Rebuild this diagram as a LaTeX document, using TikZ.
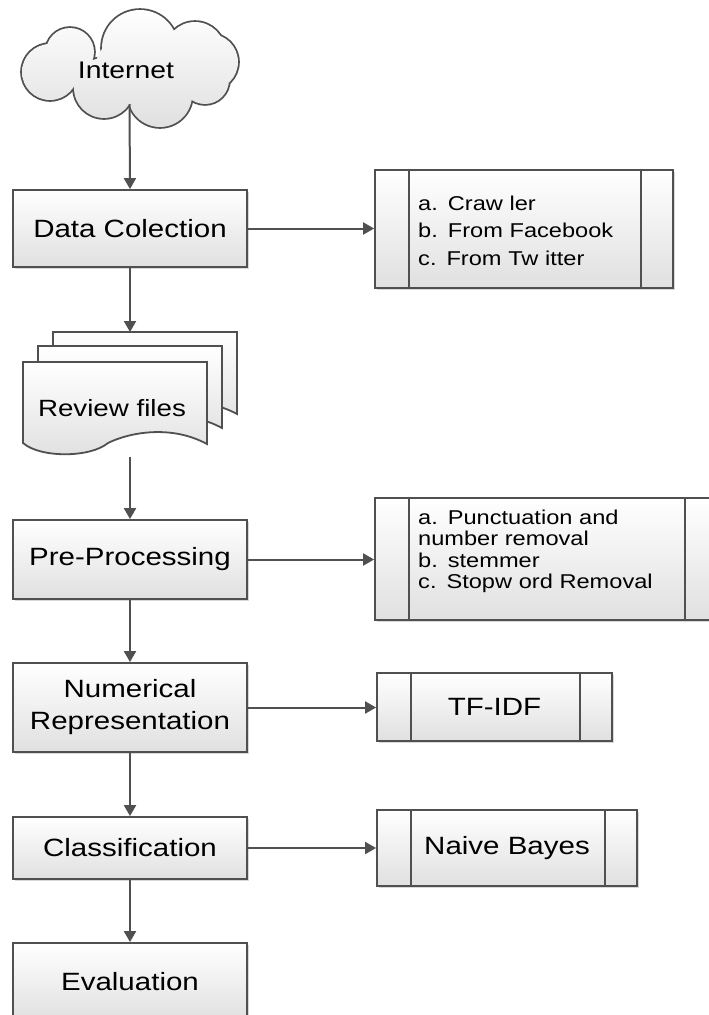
\documentclass[tikz,border=0pt]{standalone}
\usepackage{fontspec}
\setmainfont{Liberation Sans}[FakeStretch=1.18]
\usetikzlibrary{arrows.meta,shadows}
\definecolor{edge}{RGB}{80,80,80}
\definecolor{fillbot}{RGB}{224,224,224}
\begin{document}
\begin{tikzpicture}[x=1pt,y=-1pt,
  proc/.style={draw=edge, line width=1.8pt, top color=white, bottom color=fillbot,
    minimum width=234pt, align=center, inner sep=0pt,
    font=\fontsize{25}{32}\selectfont,
    drop shadow={shadow xshift=1.5pt,shadow yshift=-1.5pt,opacity=0.3}},
  predef/.style={proc, path picture={
    \draw[edge,line width=1.8pt] ([xshift=34pt]path picture bounding box.north west) -- ([xshift=34pt]path picture bounding box.south west);
    \draw[edge,line width=1.8pt] ([xshift=-32pt]path picture bounding box.north east) -- ([xshift=-32pt]path picture bounding box.south east);}},
  flow/.style={-{Triangle[length=11pt,width=12pt]}, draw=edge, line width=2pt},
  listtext/.style={align=left, inner sep=0pt, anchor=west, font=\fontsize{20}{27.5}\selectfont},
  docshape/.style={draw=edge, line width=1.8pt, top color=white, bottom color=fillbot}
]
\fill[white] (0,0) rectangle (709,1015);
\useasboundingbox (0,0) rectangle (709,1015);

% cloud
\def\cloudouter{(50,72) circle[radius=28] (70,52) circle[radius=24] (140,48) circle[radius=38] (195,52) circle[radius=30] (210,62) circle[radius=28] (205,80) circle[radius=24] (160,95) circle[radius=32] (104,88) circle[radius=30]}
\draw[edge, line width=3.6pt] \cloudouter;
\shade[top color=white, bottom color=fillbot] \cloudouter (130,70) circle[radius=35];
\node[font=\fontsize{24}{28}\selectfont, inner sep=0pt] (inet) at (126,70) {Internet};
\coordinate (inetb) at (129.5,104);

% review files stack
\foreach \dx/\dy in {30/-30, 15/-16, 0/0}{
  \begin{scope}[shift={(\dx,\dy)}]
    \path[docshape] (23,362) -- (207,362) -- (207,444)
      .. controls (170,424) and (128,433) .. (108,443)
      .. controls (90,458) and (40,458) .. (23,443) -- cycle;
  \end{scope}
}
\node[font=\fontsize{23.5}{28}\selectfont, inner sep=0pt] (rev) at (112,408) {Review files};
\coordinate (revtop) at (130,332);
\coordinate (revbot) at (130,457);

% main process boxes
\node[proc, minimum height=77pt] (dc) at (130,228.5) {Data Colection};
\node[proc, minimum height=79pt] (pp) at (130,559.5) {Pre-Processing};
\node[proc, minimum height=89pt] (nr) at (130,707.5) {Numerical\\Representation};
\node[proc, minimum height=62pt] (cl) at (130,848) {Classification};
\node[proc, minimum height=78pt] (ev) at (130,982) {Evaluation};

% predefined process boxes
\node[predef, minimum width=298pt, minimum height=118pt] (l1) at (524,229) {};
\node[listtext, text width=215pt] (l1t) at (418,230.5) {a. Craw ler\\b. From Facebook\\c. From Tw itter};
\node[predef, minimum width=342pt, minimum height=122pt] (l2) at (546,559) {};
\node[listtext, text width=270pt, font=\fontsize{20}{21.5}\selectfont] (l2t) at (418,551.5) {a. Punctuation and\\number removal\\b. stemmer\\c. Stopw ord Removal};
\node[predef, minimum width=235pt, minimum height=68pt] (tf) at (494.5,707) {TF-IDF};
\node[predef, minimum width=260pt, minimum height=76pt] (nb) at (507,848) {Naive Bayes};

% connectors
\draw[flow] (inetb) -- (dc.north);
\draw[flow] (dc.south) -- (revtop);
\draw[flow] (revbot) -- (pp.north);
\draw[flow] (pp.south) -- (nr.north);
\draw[flow] (nr.south) -- (cl.north);
\draw[flow] (cl.south) -- (ev.north);
\draw[flow] (dc.east) -- (dc.east -| l1.west);
\draw[flow] (pp.east) -- (pp.east -| l2.west);
\draw[flow] (nr.east) -- (nr.east -| tf.west);
\draw[flow] (cl.east) -- (cl.east -| nb.west);
\end{tikzpicture}
\end{document}
